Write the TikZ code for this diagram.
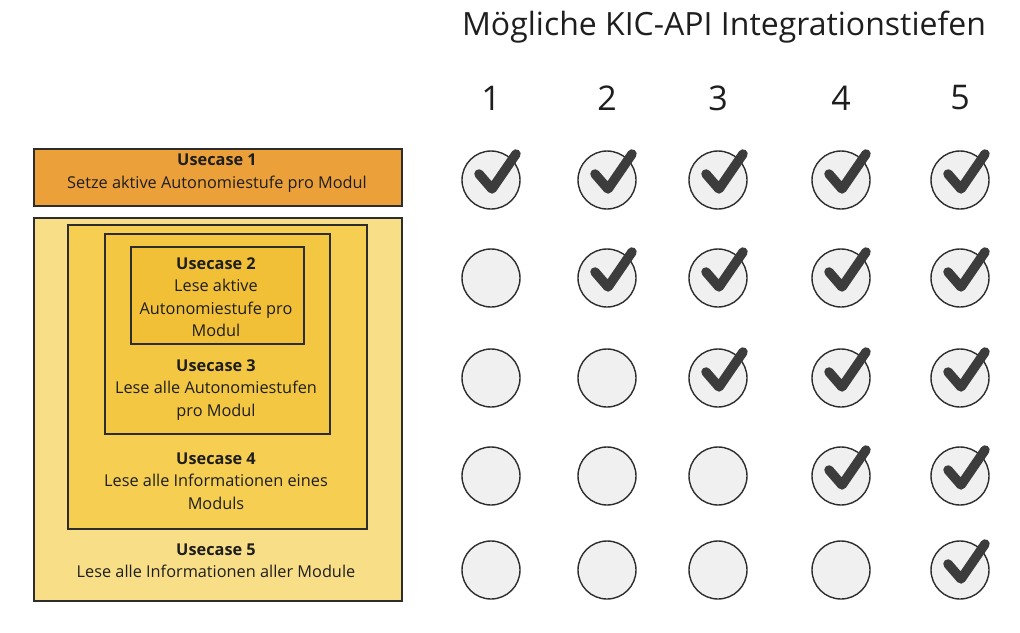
\documentclass[tikz,border=0pt]{standalone}
\usepackage{fontspec}
\setmainfont{Open Sans}
\usetikzlibrary{positioning}

\definecolor{ucorange}{RGB}{235,160,58}
\definecolor{ucfive}{RGB}{248,222,134}
\definecolor{ucfour}{RGB}{245,206,82}
\definecolor{ucthree}{RGB}{243,199,66}
\definecolor{uctwo}{RGB}{241,192,55}
\definecolor{boxline}{RGB}{45,45,45}
\definecolor{textdark}{RGB}{30,30,30}
\definecolor{dotfill}{RGB}{240,240,240}
\definecolor{checkgray}{RGB}{60,60,60}

\begin{document}
\begin{tikzpicture}[
    x=1pt, y=-1pt,
    every node/.style={font=\fontsize{16.3}{22.5}\selectfont, align=center, text=textdark},
    box/.style={rectangle, draw=boxline, line width=1.5pt, inner sep=0pt, anchor=north west},
    dot/.style={circle, draw=boxline, line width=1.4pt, fill=dotfill, minimum size=58pt, inner sep=0pt},
    check/.style={draw=checkgray, line width=9.5pt, line cap=round, line join=round},
    head/.style={font=\fontsize{32}{38}\selectfont},
    num/.style={font=\fontsize{34}{40}\selectfont}
]
\useasboundingbox (0,0) rectangle (1020,632);

% BOXES
\node[box, fill=ucorange, minimum width=368pt, minimum height=57pt] (uc1) at (33,148) {};
\node[box, fill=ucfive, minimum width=368pt, minimum height=383pt] (uc5) at (33,217) {};
\node[box, fill=ucfour, minimum width=299pt, minimum height=304pt] (uc4) at (67,224) {};
\node[box, fill=ucthree, minimum width=225pt, minimum height=200pt] (uc3) at (104,233) {};
\node[box, fill=uctwo, minimum width=173pt, minimum height=97pt] (uc2) at (130,246) {};

% TEXTS
\node (uc1txt) at (217,173) {\textbf{Usecase 1}\\Setze aktive Autonomiestufe pro Modul};
\node (uc2txt) at (216,297) {\textbf{Usecase 2}\\Lese aktive\\Autonomiestufe pro\\Modul};
\node (uc3txt) at (216,390) {\textbf{Usecase 3}\\Lese alle Autonomiestufen\\pro Modul};
\node (uc4txt) at (216,481) {\textbf{Usecase 4}\\Lese alle Informationen eines\\Moduls};
\node (uc5txt) at (216,561) {\textbf{Usecase 5}\\Lese alle Informationen aller Module};

% HEADER
\node[head] (title) at (724,27) {Mögliche KIC-API Integrationstiefen};

% GRID
\foreach \col/\x in {1/491,2/607,3/718,4/841,5/960} {
    \node[num] (n\col) at (\x,98) {\col};
    \foreach \row/\y in {1/180,2/278,3/378,4/476,5/570} {
        \node[dot] (c\col\row) at (\x,\y) {};
        \ifnum\row>\col\else
            \draw[check, shift={(c\col\row.center)}] (-12,-6) -- (1,9) -- (25,-26);
        \fi
    }
}

\end{tikzpicture}
\end{document}
